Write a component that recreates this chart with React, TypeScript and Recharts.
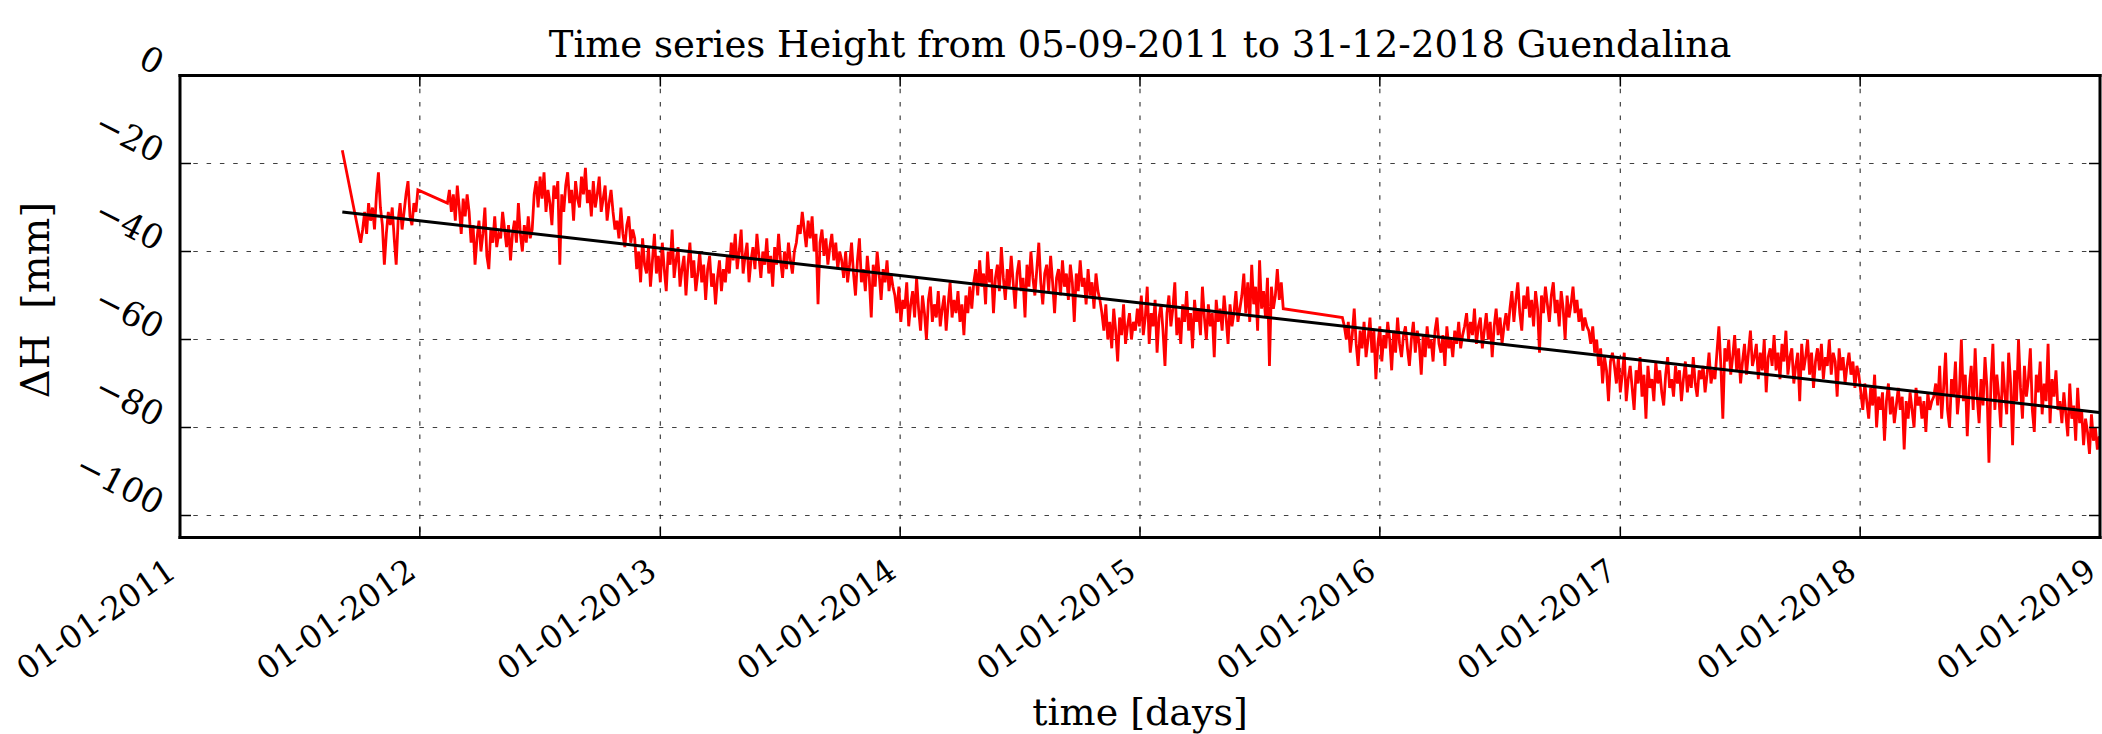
import React from 'react';
import { LineChart, Line, XAxis, YAxis, CartesianGrid } from 'recharts';

// ---------------- data ----------------
const TITLE = 'Time series Height from 05-09-2011 to 31-12-2018 Guendalina';
const X_LABEL = 'time [days]';
const Y_LABEL = 'ΔH\u00a0\u00a0[mm]';

const X_TICK_DATES = ['2011-01-01', '2012-01-01', '2013-01-01', '2014-01-01', '2015-01-01', '2016-01-01', '2017-01-01', '2018-01-01', '2019-01-01'];
const Y_TICKS = [0, -20, -40, -60, -80, -100];
const X_DOMAIN = ['2011-01-01', '2019-01-01'];
const Y_DOMAIN = [-105, 0];

// sampling step of the dense segments (days)
const STEP_DAYS = 3;

// isolated first observation
const FIRST_DATE = '2011-09-05';
const FIRST_VALUE = -17;

// segment A: autumn 2011
const SEG_A_START = '2011-10-03';
const SEG_A = [
  -38, -35, -31, -36, -29, -33, -30, -35, -27, -22, -30, -34, -43, -36, -31,
  -34, -30, -37, -43, -33, -29, -35, -31, -27, -24, -32, -34, -29, -31, -26,
];

// segment B: Feb 2012 - Aug 2015
const SEG_B_START = '2012-02-12';
const SEG_B = [
  -29, -26, -31, -27, -33, -25, -30, -36, -28, -32, -27, -31,
  -38, -34, -43, -37, -33, -40, -36, -30, -41, -44, -35, -38, -32, -39, -36,
  -37, -31, -35, -39, -34, -42, -36, -33, -38, -29, -36, -40, -34, -38, -32, -37, -35,
  -27, -24, -30, -23, -28, -22, -31, -26, -29, -34, -25, -28, -24, -43, -27, -31, -25, -22, -29, -26,
  -33, -24, -28, -30, -23, -27, -21, -29, -26, -32, -24, -30, -27, -23, -31, -28, -25, -33, -29, -26,
  -31, -35, -33, -37, -30, -36, -39, -34, -32, -38, -35, -37,
  -44, -40, -47, -37, -43, -45, -39, -48, -42, -36, -45, -41, -47, -38, -44, -49, -40, -43, -35, -46,
  -42, -39, -48, -44, -41, -50, -43, -38, -46, -42, -49, -45, -40, -47, -43, -51, -44, -41, -48, -45,
  -52, -46, -42, -49, -44, -47, -41, -45,
  -38, -42, -36, -44, -40, -35, -45, -41, -38, -47, -42, -39, -44, -36, -41, -46, -40, -43, -37, -45,
  -41, -48, -39, -43, -36, -42, -46, -40, -44, -38, -42, -45, -40,
  -38, -34, -36, -31, -35, -39, -33, -37, -32, -40, -36, -52, -38, -35, -41, -37, -43, -39, -36, -42,
  -38, -44, -40,
  -42, -46, -40, -47, -43, -38, -45, -50, -42, -37, -47, -44, -49, -41, -46, -55, -43, -48, -40, -45,
  -51, -44, -47, -42, -49, -45, -48,
  -50, -54, -48, -56, -51, -53, -47, -57, -52, -49, -55, -46, -53, -58, -50, -54, -60, -51, -48, -56,
  -52, -55, -49, -57, -53, -50, -58, -52, -47, -55, -51, -54, -49, -56, -52, -59, -50, -54, -48, -53,
  -47, -44, -50, -42, -48, -45, -52, -40, -47, -44, -54, -46, -43, -49, -39, -46, -51, -44, -48, -41,
  -47, -53, -45, -42, -49, -46, -55, -43, -48, -40, -46, -50, -44, -38, -47, -52, -45, -43, -49, -41,
  -47, -54, -46, -44, -50, -42, -48, -45, -51, -43, -47, -56, -45, -49, -42, -48, -46, -52, -44, -50,
  -47, -53, -45, -49, -51,
  -54, -58, -52, -60, -56, -62, -53, -58, -65, -55, -59, -52, -61, -57, -54, -60, -56, -58,
  -53, -57, -50, -59, -55, -48, -61, -54, -57, -51, -63, -55, -52, -58, -66, -54, -50, -57, -53, -47,
  -59, -55, -61, -52, -56, -49, -58, -54, -62, -51, -56, -53, -59, -48, -55, -60, -52, -57, -54, -64,
  -51, -56, -53, -58, -50, -55, -61, -52, -57, -54, -49, -56, -53,
  -50, -45, -54, -47, -56, -43, -52, -48, -58, -42, -53, -49, -55, -46, -66, -48, -53, -50, -44, -51,
  -47, -53,
];

// segment C: Nov 2015 - Dec 2018
const SEG_C_START = '2015-11-05';
const SEG_C = [
  -55, -57, -60, -56, -63, -59, -53, -61, -66, -58, -62, -56, -64, -60, -55, -63, -58, -69, -61, -57,
  -65, -59, -62, -56, -60, -67, -58, -63, -55, -61, -64, -59, -57, -62, -66, -60, -56, -63, -58, -61,
  -68, -59, -64, -57, -62, -60, -65, -58, -55, -61, -63, -59, -66, -57, -62, -60, -64, -58, -61, -56,
  -62, -59,
  -57, -54, -60, -56, -59, -53, -61, -57, -55, -62, -58, -54, -60, -56, -64, -57, -53, -59, -55, -61,
  -57, -54, -58,
  -53, -49, -56, -51, -47, -54, -58, -50, -53, -48, -55, -51, -57, -49, -53, -63, -50, -54, -48, -52,
  -56, -50, -47, -54, -51, -57, -49, -53, -60, -50, -55, -52, -48, -54, -51, -56, -53, -58, -55, -57,
  -58, -61, -57, -63, -60, -66, -62, -70, -64, -67, -74, -65, -63,
  -66, -70, -64, -72, -68, -63, -74, -69, -66, -71, -76, -67, -70, -64, -73, -68, -78, -66, -71, -69,
  -74, -65, -70, -67, -72, -75, -68, -64, -71, -69, -73, -66, -70, -67, -74, -69, -65, -72, -68, -71,
  -64, -70, -73, -67, -69, -66, -72, -68, -63, -70, -67, -69,
  -63, -57, -66, -78, -62, -65, -60, -68, -64, -59, -67, -62, -70, -65, -61, -68, -63, -58, -66, -64,
  -61, -69, -63, -67, -60, -72, -64, -62, -66, -59, -67, -63, -69, -61, -65, -58, -68, -64, -62, -70,
  -66, -63, -74, -61, -67, -64, -60, -68, -63, -71, -65, -62, -67, -61, -69, -64, -66, -60, -68, -63,
  -65, -73, -62, -67, -64, -70, -66, -63, -68, -65, -71, -66, -68,
  -72, -76, -70, -74, -78, -71, -75, -68, -80, -73, -76, -72, -83, -74, -70, -77, -73, -79, -75, -71,
  -76, -73, -85, -74, -78, -72, -76, -80, -71, -75, -73, -78, -74, -81, -72, -76, -74, -73,
  -70, -75, -66, -78, -71, -63, -76, -80, -69, -73, -65, -77, -72, -60, -74, -68, -82, -71, -66, -76,
  -62, -73, -79, -69, -75, -64, -71, -88, -70, -61, -76, -68, -73, -80, -65, -72, -77, -63, -70, -84,
  -67, -74, -60, -71, -78, -66, -73, -69, -62, -76, -81, -68, -72, -65, -77, -70, -74, -61, -79, -69,
  -73, -67, -76,
  -74, -79, -72, -77, -82, -70, -78, -75, -83, -71, -79, -76, -84, -78, -81, -86, -77, -83, -80, -85,
  -82,
];

// linear trend
const TREND_DATES = ['2011-09-05', '2018-12-31'];
const TREND_VALUES = [-31.0, -76.6];

// ---------------- helpers ----------------
const DAY = 86400000;
const ts = (s: string) => {
  const [y, m, d] = s.split('-').map(Number);
  return Date.UTC(y, m - 1, d);
};
const segRows = (start: string, vals: number[]) => {
  const t0 = ts(start);
  return vals.map((v, i) => ({ t: t0 + i * STEP_DAYS * DAY, v }));
};
const SERIES = [
  { t: ts(FIRST_DATE), v: FIRST_VALUE },
  ...segRows(SEG_A_START, SEG_A),
  ...segRows(SEG_B_START, SEG_B),
  ...segRows(SEG_C_START, SEG_C),
];
const TREND = TREND_DATES.map((d, i) => ({ t: ts(d), v: TREND_VALUES[i] }));
const X_TICKS = X_TICK_DATES.map(ts);
const pad2 = (n: number) => (n < 10 ? '0' + n : '' + n);
const fmtDate = (t: number) => {
  const d = new Date(t);
  return `${pad2(d.getUTCDate())}-${pad2(d.getUTCMonth() + 1)}-${d.getUTCFullYear()}`;
};
const fmtNum = (v: number) => (v < 0 ? '\u2212' + Math.abs(v) : String(v));

const FONT = 'DejaVu Serif';
const TICK_LEN = 11;

const BottomTick = (p: any) => {
  const { x, y, payload } = p;
  const ax = x - 2;
  const ay = y + 38;
  return (
    <g>
      <line x1={x} y1={y} x2={x} y2={y - TICK_LEN} stroke="#000" strokeWidth={1.5} />
      <text x={ax} y={ay} transform={`rotate(-35, ${ax}, ${ay})`} textAnchor="end" fontSize={32} fontFamily={FONT} fill="#000">
        {fmtDate(payload.value)}
      </text>
    </g>
  );
};
const TopTick = (p: any) => {
  const { x, y } = p;
  return <line x1={x} y1={y} x2={x} y2={y + TICK_LEN} stroke="#000" strokeWidth={1.5} />;
};
const LeftTick = (p: any) => {
  const { x, y, payload } = p;
  const ax = x - 24;
  const ay = y;
  return (
    <g>
      <line x1={x} y1={y} x2={x + TICK_LEN} y2={y} stroke="#000" strokeWidth={1.5} />
      <text x={ax} y={ay} transform={`rotate(27, ${ax}, ${ay})`} textAnchor="end" fontSize={34} fontFamily={FONT} fill="#000">
        {fmtNum(payload.value)}
      </text>
    </g>
  );
};
const RightTick = (p: any) => {
  const { x, y } = p;
  return <line x1={x} y1={y} x2={x - TICK_LEN} y2={y} stroke="#000" strokeWidth={1.5} />;
};

const W = 2102;
const H = 734;
const PLOT_LEFT = 180;
const PLOT_RIGHT = 2100;
const PLOT_TOP = 75.5;
const PLOT_BOTTOM = 537.5;
const Y_AXIS_W = 100;
const X_AXIS_H = 50;
const TOP_AXIS_H = 10;
const RIGHT_AXIS_W = 2;

const spine = { stroke: '#000', strokeWidth: 3, strokeLinecap: 'square' as const };

export default function App() {
  const xDomain = X_DOMAIN.map(ts);
  return (
    <div style={{ position: 'absolute', left: 0, top: 0, width: W, height: H, background: '#fff' }}>
      <LineChart
        width={W}
        height={H}
        margin={{
          top: PLOT_TOP - TOP_AXIS_H,
          left: PLOT_LEFT - Y_AXIS_W,
          right: W - PLOT_RIGHT - RIGHT_AXIS_W,
          bottom: H - PLOT_BOTTOM - X_AXIS_H,
        }}
      >
        <CartesianGrid stroke="#000" strokeOpacity={0.75} strokeWidth={1.2} strokeDasharray="4.5 8.8" />
        <XAxis
          dataKey="t"
          type="number"
          domain={xDomain}
          allowDataOverflow
          ticks={X_TICKS}
          interval={0}
          height={X_AXIS_H}
          tickSize={0}
          tickMargin={0}
          tickLine={false}
          axisLine={spine}
          tick={<BottomTick />}
        />
        <XAxis
          xAxisId="top"
          orientation="top"
          dataKey="t"
          type="number"
          domain={xDomain}
          allowDataOverflow
          ticks={X_TICKS}
          interval={0}
          height={TOP_AXIS_H}
          tickSize={0}
          tickMargin={0}
          tickLine={false}
          axisLine={spine}
          tick={<TopTick />}
        />
        <YAxis
          type="number"
          domain={Y_DOMAIN}
          allowDataOverflow
          ticks={Y_TICKS}
          interval={0}
          width={Y_AXIS_W}
          tickSize={0}
          tickMargin={0}
          tickLine={false}
          axisLine={spine}
          tick={<LeftTick />}
        />
        <YAxis
          yAxisId="right"
          orientation="right"
          type="number"
          domain={Y_DOMAIN}
          allowDataOverflow
          ticks={Y_TICKS}
          interval={0}
          width={RIGHT_AXIS_W}
          tickSize={0}
          tickMargin={0}
          tickLine={false}
          axisLine={spine}
          tick={<RightTick />}
        />
        <Line data={SERIES} dataKey="v" type="linear" stroke="#ff0000" strokeWidth={2.8} dot={false} activeDot={false} isAnimationActive={false} />
        <Line data={TREND} dataKey="v" type="linear" stroke="#000" strokeWidth={3} dot={false} activeDot={false} isAnimationActive={false} />
        <text x={(PLOT_LEFT + PLOT_RIGHT) / 2} y={57} textAnchor="middle" fontSize={37} fontFamily={FONT} fill="#000">
          {TITLE}
        </text>
        <text x={(PLOT_LEFT + PLOT_RIGHT) / 2} y={725} textAnchor="middle" fontSize={38} fontFamily={FONT} fill="#000">
          {X_LABEL}
        </text>
        <text x={49} y={300} transform="rotate(-90, 49, 300)" textAnchor="middle" fontSize={40} fontFamily={FONT} fill="#000">
          {Y_LABEL}
        </text>
      </LineChart>
    </div>
  );
}
